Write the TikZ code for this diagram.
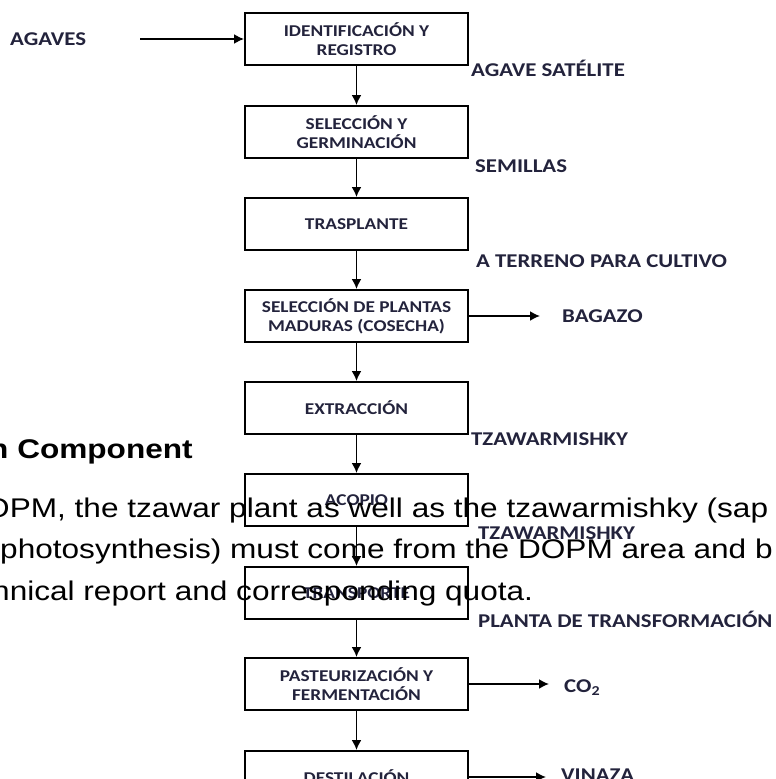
\documentclass[tikz,border=0pt]{standalone}
\usepackage{fontspec}
\usepackage{tikz}
\usetikzlibrary{arrows.meta}
\setmainfont{Liberation Sans}[FakeStretch=1.17]
\newfontfamily\flowfont{Carlito}[FakeStretch=1.17]
\definecolor{labelc}{RGB}{35,35,60}

\begin{document}
\begin{tikzpicture}[x=1pt,y=-1pt]
  \tikzstyle{every node}=[inner sep=0pt]
  \tikzstyle{paso}=[draw,line width=1.9pt,minimum width=223pt,minimum height=52pt,align=center,text=labelc,font=\flowfont\bfseries\fontsize{16.5}{19}\selectfont]
  \tikzstyle{salida}=[anchor=base west,text=labelc,font=\flowfont\bfseries\fontsize{19.5}{22}\selectfont]
  \tikzstyle{texto}=[anchor=base west,font=\fontsize{27}{32}\selectfont]
  \tikzstyle{flecha}=[line width=1.8pt,-{Latex[length=10pt,width=10pt]}]
  \useasboundingbox (0,0) rectangle (776,779);
  \clip (0,0) rectangle (776,779);
  % process boxes
  \node[paso] (1) at (356.5,39) {IDENTIFICACIÓN Y\\REGISTRO};
  \node[paso] (2) at (356.5,132) {SELECCIÓN Y\\GERMINACIÓN};
  \node[paso] (3) at (356.5,224) {TRASPLANTE};
  \node[paso] (4) at (356.5,316) {SELECCIÓN DE PLANTAS\\MADURAS (COSECHA)};
  \node[paso] (5) at (356.5,408) {EXTRACCIÓN};
  \node[paso] (6) at (356.5,500) {ACOPIO};
  \node[paso] (7) at (356.5,593) {TRANSPORTE};
  \node[paso] (8) at (356.5,684) {PASTEURIZACIÓN Y\\FERMENTACIÓN};
  \node[paso] (9) at (356.5,777) {DESTILACIÓN};
  % side labels
  \node[salida] (agaves) at (10,45) {AGAVES};
  \coordinate (inicio) at (140,39);
  \node[salida] (satelite) at (471,76) {AGAVE SATÉLITE};
  \node[salida] (semillas) at (475,172) {SEMILLAS};
  \node[salida] (terreno) at (476,267) {A TERRENO PARA CULTIVO};
  \node[salida] (bagazo) at (562,322) {BAGAZO};
  \node[salida] (tzawar1) at (471,445) {TZAWARMISHKY};
  \node[salida] (tzawar2) at (478,539) {TZAWARMISHKY};
  \node[salida] (planta) at (478,627) {PLANTA DE TRANSFORMACIÓN};
  \node[salida] (co2) at (564,692) {CO\textsubscript{2}};
  \node[salida] (vinaza) at (561,781) {VINAZA};
  \path[flecha]
  (1) edge (2)
    (2) edge (3)
    (3) edge (4)
    (4) edge (5)
    (5) edge (6)
    (6) edge (7)
    (7) edge (8)
    (8) edge (9);
  \draw[flecha] (inicio) -- (1);
  \draw[flecha,shorten >=22pt] (4.east) -- (4.east -| bagazo.west);
  \draw[flecha,shorten >=15pt] (8.east) -- (8.east -| co2.west);
  \draw[flecha,shorten >=15pt] (9.east) -- (9.east -| vinaza.west);
  % text of the page behind
  \node[texto,font=\bfseries\fontsize{27}{32}\selectfont] (titulo) at (-11,458) {n Component};
  \node[texto] (linea1) at (-15,517) {OPM, the tzawar plant as well as the tzawarmishky (sap};
  \node[texto] (linea2) at (0,558.5) {photosynthesis) must come from the DOPM area and b};
  \node[texto] (linea3) at (-8,600) {nnical report and corresponding quota.};
\end{tikzpicture}
\end{document}
